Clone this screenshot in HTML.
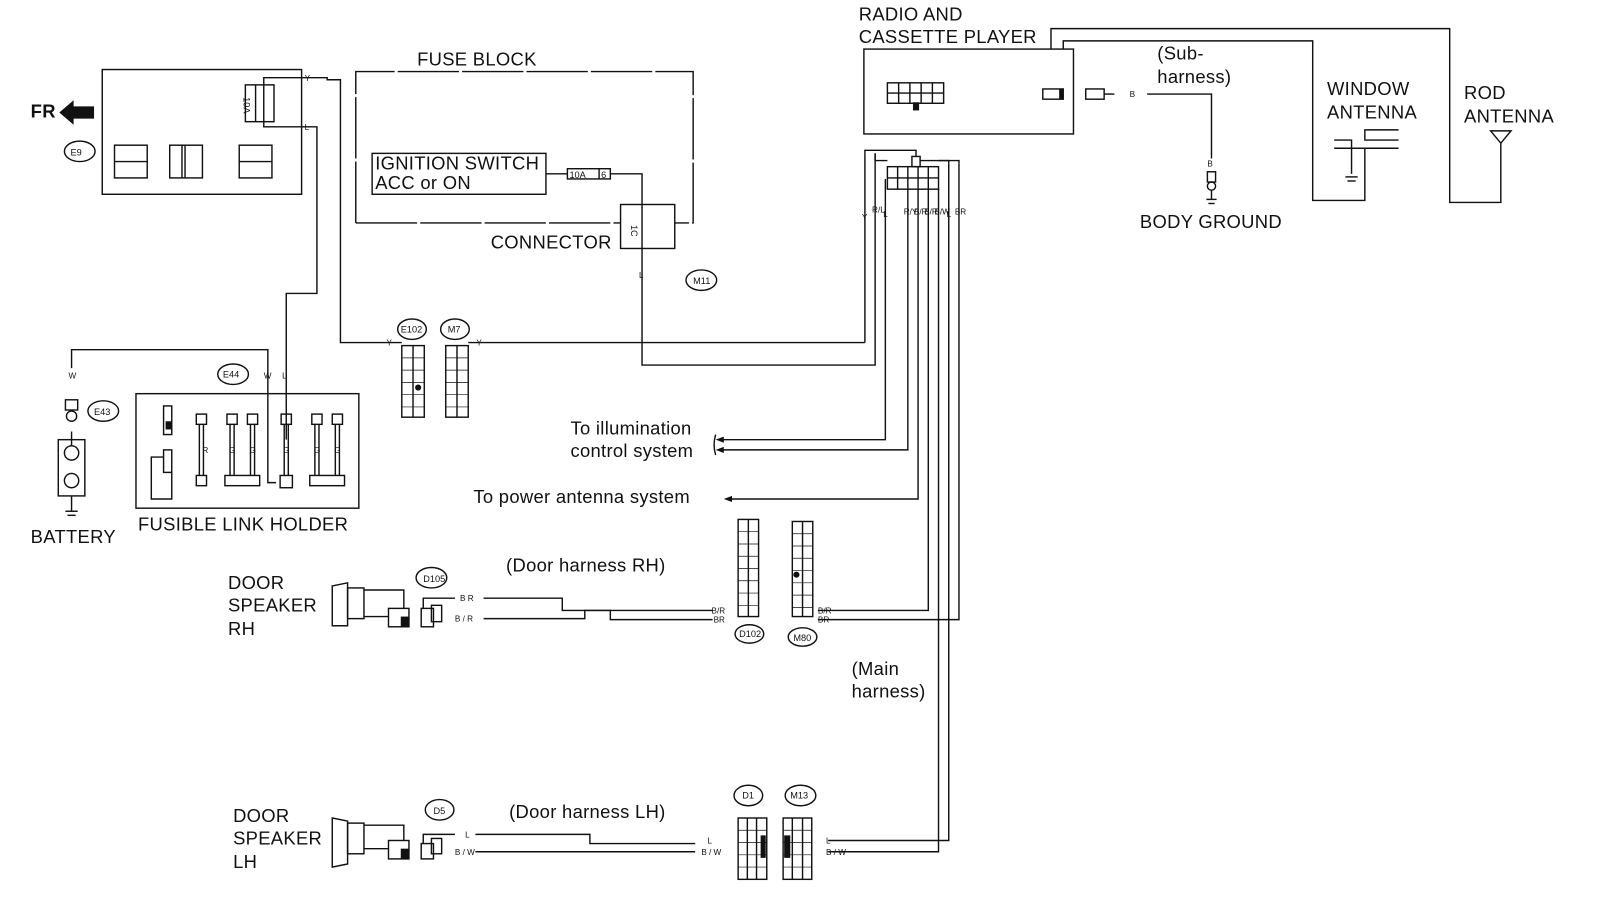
<!DOCTYPE html>
<html><head><meta charset="utf-8"><style>
html,body{margin:0;padding:0;background:#fff;}
svg{display:block;}
text{font-family:"Liberation Sans",sans-serif;fill:#111;}
.t{font-size:18px;letter-spacing:0.3px;}
.s{font-size:8px;}
.c{font-size:9px;}
</style></head><body>
<svg width="1601" height="909" viewBox="0 0 1566 889" preserveAspectRatio="none" xmlns="http://www.w3.org/2000/svg">
<g fill="none" stroke="#111" stroke-width="1.4">
<rect x="100" y="68" width="195" height="122"/>
<rect x="240" y="83" width="28" height="36"/><line x1="250" y1="83" x2="250" y2="119"/><line x1="258" y1="83" x2="258" y2="119"/>
<rect x="112" y="142" width="32" height="32"/><line x1="112" y1="158" x2="144" y2="158"/>
<rect x="166" y="142" width="32" height="32"/><line x1="178" y1="142" x2="178" y2="174"/><line x1="181" y1="142" x2="181" y2="174"/>
<rect x="234" y="142" width="32" height="32"/><line x1="234" y1="158" x2="266" y2="158"/>
<ellipse cx="78" cy="148" rx="15" ry="10"/>
<polyline points="258,83 258,76 320,76 320,78 333,78 333,335 393,335"/>
<polyline points="258,119 258,124 310,124 310,287 280,287 280,430"/>
<polyline points="348,218 348,70 678,70 678,218 660,218" stroke-dasharray="60 3"/>
<line x1="348" y1="218" x2="607" y2="218" stroke-dasharray="60 3"/>
<rect x="364" y="150" width="170" height="40"/>
<rect x="555" y="165" width="42" height="10"/><line x1="586" y1="165" x2="586" y2="175"/>
<polyline points="534,170 555,170"/><polyline points="597,170 628,170 628,357 856,357 856,150"/>
<rect x="607" y="200" width="53" height="43"/>
<ellipse cx="686" cy="274" rx="15" ry="10"/>
<ellipse cx="403" cy="322" rx="14" ry="10"/><ellipse cx="445" cy="322" rx="14" ry="10"/>
<rect x="393" y="338" width="22" height="70"/><line x1="404" y1="338" x2="404" y2="408"/>
<rect x="436" y="338" width="22" height="70"/><line x1="447" y1="338" x2="447" y2="408"/>
<line x1="458" y1="335" x2="846" y2="335"/><line x1="846" y1="335" x2="846" y2="150"/>
<polyline points="70,360 70,342 262,342 262,472 270,472"/>
<rect x="64" y="391" width="12" height="10"/><circle cx="70" cy="407" r="5"/>
<ellipse cx="101" cy="402" rx="15" ry="10"/>
<rect x="57" y="430" width="26" height="55"/><circle cx="70" cy="443" r="7"/><circle cx="70" cy="470" r="7"/>
<line x1="70" y1="422" x2="70" y2="436"/><line x1="70" y1="485" x2="70" y2="500"/>
<line x1="64" y1="500" x2="76" y2="500"/><line x1="66" y1="504" x2="74" y2="504"/>
<rect x="133" y="385" width="218" height="112"/>
<ellipse cx="228" cy="366" rx="15" ry="10"/>
<rect x="160" y="397" width="8" height="28"/>
<rect x="160" y="440" width="8" height="22"/><polyline points="160,447 148,447 148,488 168,488 168,462"/>
<rect x="192" y="405" width="10" height="10"/><rect x="192" y="465" width="10" height="10"/><line x1="195" y1="415" x2="195" y2="465"/><line x1="199" y1="415" x2="199" y2="465"/>
<rect x="222" y="405" width="10" height="10"/><rect x="242" y="405" width="10" height="10"/><rect x="220" y="465" width="34" height="10"/>
<line x1="225" y1="415" x2="225" y2="465"/><line x1="229" y1="415" x2="229" y2="465"/><line x1="245" y1="415" x2="245" y2="465"/><line x1="249" y1="415" x2="249" y2="465"/>
<rect x="275" y="405" width="10" height="10"/><rect x="274" y="465" width="12" height="12"/><line x1="278" y1="415" x2="278" y2="465"/><line x1="282" y1="415" x2="282" y2="465"/>
<rect x="305" y="405" width="10" height="10"/><rect x="325" y="405" width="10" height="10"/><rect x="303" y="465" width="34" height="10"/>
<line x1="308" y1="415" x2="308" y2="465"/><line x1="312" y1="415" x2="312" y2="465"/><line x1="328" y1="415" x2="328" y2="465"/><line x1="332" y1="415" x2="332" y2="465"/>
<rect x="845" y="48" width="205" height="83"/>
<rect x="868" y="81" width="55" height="20"/><line x1="868" y1="91" x2="923" y2="91"/>
<line x1="879" y1="81" x2="879" y2="101"/><line x1="890" y1="81" x2="890" y2="101"/><line x1="901" y1="81" x2="901" y2="101"/><line x1="912" y1="81" x2="912" y2="101"/>
<rect x="1020" y="87" width="20" height="10"/><rect x="1062" y="87" width="18" height="10"/><line x1="1080" y1="92" x2="1090" y2="92"/>
<polyline points="1122,92 1185,92 1185,155"/>
<rect x="1181" y="168" width="8" height="10"/><circle cx="1185" cy="182" r="4"/><line x1="1185" y1="186" x2="1185" y2="195"/><line x1="1180" y1="195" x2="1190" y2="195"/><line x1="1182" y1="199" x2="1188" y2="199"/>
<polyline points="1028,48 1028,28 1418,28 1418,198 1468,198 1468,140"/>
<polyline points="1040,48 1040,40 1284,40 1284,196 1335,196 1335,145"/>
<polyline points="1305,137 1322,137 1322,170"/><polyline points="1368,127 1335,127 1335,137 1368,137"/><line x1="1305" y1="145" x2="1368" y2="145"/>
<line x1="1316" y1="173" x2="1328" y2="173"/><line x1="1318" y1="177" x2="1326" y2="177"/>
<polygon points="1458,128 1478,128 1468,140"/>
<rect x="868" y="163" width="50" height="22"/><line x1="868" y1="174" x2="918" y2="174"/>
<line x1="878" y1="163" x2="878" y2="185"/><line x1="888" y1="163" x2="888" y2="185"/><line x1="898" y1="163" x2="898" y2="185"/><line x1="908" y1="163" x2="908" y2="185"/>
<rect x="892" y="153" width="8" height="10"/>
<polyline points="846,150 846,147 896,147 896,153"/><polyline points="856,150 856,157 868,157"/><polyline points="918,157 928,157 928,160"/><polyline points="900,157 938,157 938,160"/>
<line x1="866" y1="175" x2="866" y2="200"/>
<polyline points="866,200 866,430 705,430"/>
<polyline points="888,185 888,440 705,440"/>
<polyline points="898,185 898,488 712,488"/>
<polyline points="908,185 908,597 800,597"/>
<polyline points="918,185 918,833 810,833"/>
<polyline points="928,160 928,822 810,822"/>
<polyline points="938,160 938,606 800,606"/>
<path d="M700,425 Q697,435 700,445"/>
<rect x="722" y="508" width="20" height="95"/><line x1="732" y1="508" x2="732" y2="603"/>
<rect x="775" y="510" width="20" height="93"/><line x1="785" y1="510" x2="785" y2="603"/>
<ellipse cx="733" cy="620" rx="14" ry="9"/><ellipse cx="785" cy="623" rx="14" ry="9"/>
<polygon points="325,573 340,570 340,612 325,612"/><rect x="340" y="575" width="16" height="30"/>
<polyline points="356,577 395,577 395,595"/><polyline points="356,603 380,603"/>
<rect x="380" y="595" width="20" height="18"/>
<rect x="412" y="595" width="12" height="18"/><rect x="422" y="592" width="10" height="16"/>
<polyline points="414,595 414,585 445,585"/>
<ellipse cx="422" cy="565" rx="15" ry="10"/>
<polyline points="473,585 550,585 550,597 597,597 597,606 697,606"/>
<polyline points="473,605 572,605 572,597 697,597"/>
<polygon points="325,800 340,803 340,845 325,848"/><rect x="340" y="805" width="16" height="30"/>
<polyline points="356,807 395,807 395,822"/><polyline points="356,830 380,830"/>
<rect x="380" y="822" width="20" height="18"/>
<rect x="412" y="825" width="12" height="15"/><rect x="422" y="820" width="10" height="15"/>
<polyline points="414,825 414,816 445,816"/>
<ellipse cx="430" cy="792" rx="14" ry="10"/>
<polyline points="465,816 577,816 577,825 680,825"/>
<line x1="465" y1="833" x2="680" y2="833"/>
<rect x="722" y="800" width="28" height="60"/><line x1="731" y1="800" x2="731" y2="860"/><line x1="740" y1="800" x2="740" y2="860"/>
<rect x="766" y="800" width="28" height="60"/><line x1="775" y1="800" x2="775" y2="860"/><line x1="785" y1="800" x2="785" y2="860"/>
<ellipse cx="732" cy="778" rx="14" ry="10"/><ellipse cx="783" cy="778" rx="15" ry="10"/>
</g>
<g stroke="#111" stroke-width="0.7">
<line x1="393" y1="350" x2="415" y2="350"/><line x1="393" y1="362" x2="415" y2="362"/><line x1="393" y1="374" x2="415" y2="374"/><line x1="393" y1="386" x2="415" y2="386"/><line x1="393" y1="398" x2="415" y2="398"/>
<line x1="436" y1="350" x2="458" y2="350"/><line x1="436" y1="362" x2="458" y2="362"/><line x1="436" y1="374" x2="458" y2="374"/><line x1="436" y1="386" x2="458" y2="386"/><line x1="436" y1="398" x2="458" y2="398"/>
<line x1="722" y1="520" x2="742" y2="520"/><line x1="722" y1="532" x2="742" y2="532"/><line x1="722" y1="544" x2="742" y2="544"/><line x1="722" y1="556" x2="742" y2="556"/><line x1="722" y1="568" x2="742" y2="568"/><line x1="722" y1="580" x2="742" y2="580"/><line x1="722" y1="592" x2="742" y2="592"/>
<line x1="775" y1="522" x2="795" y2="522"/><line x1="775" y1="534" x2="795" y2="534"/><line x1="775" y1="546" x2="795" y2="546"/><line x1="775" y1="558" x2="795" y2="558"/><line x1="775" y1="570" x2="795" y2="570"/><line x1="775" y1="582" x2="795" y2="582"/><line x1="775" y1="594" x2="795" y2="594"/>
<line x1="722" y1="812" x2="750" y2="812"/><line x1="722" y1="824" x2="750" y2="824"/><line x1="722" y1="836" x2="750" y2="836"/><line x1="722" y1="848" x2="750" y2="848"/>
<line x1="766" y1="812" x2="794" y2="812"/><line x1="766" y1="824" x2="794" y2="824"/><line x1="766" y1="836" x2="794" y2="836"/><line x1="766" y1="848" x2="794" y2="848"/>
</g>
<g fill="#111">
<circle cx="409" cy="379" r="3"/><circle cx="779" cy="562" r="3"/>
<rect x="744" y="817" width="5" height="22"/><rect x="767" y="817" width="6" height="22"/>
<rect x="162" y="412" width="6" height="8"/><rect x="1036" y="87" width="4" height="10"/><rect x="893" y="100" width="6" height="8"/>
<rect x="392" y="603" width="8" height="10"/><rect x="392" y="830" width="8" height="10"/>
<polygon points="58,110 72,98 72,104 92,104 92,116 72,116 72,122"/>
<polygon points="700,430 708,427 708,433"/><polygon points="700,440 708,437 708,443"/><polygon points="708,488 716,485 716,491"/>
</g>
<text class="t" x="408" y="64">FUSE BLOCK</text>
<text class="t" x="367" y="166">IGNITION SWITCH</text>
<text class="t" x="367" y="185">ACC or ON</text>
<text class="c" x="557" y="174">10A</text><text class="c" x="588" y="174">6</text>
<text class="t" x="480" y="243">CONNECTOR</text>
<text class="c" x="619" y="226" transform="rotate(90 621 222)">1C</text>
<text class="t" x="30" y="115" font-weight="bold">FR</text>
<text class="c" x="242" y="111" transform="rotate(90 248 101)">10A</text>
<text class="c" x="69" y="152">E9</text>
<text class="c" x="678" y="278">M11</text>
<text class="c" x="392" y="325">E102</text><text class="c" x="438" y="325">M7</text>
<text class="c" x="218" y="369">E44</text><text class="c" x="92" y="406">E43</text>
<text class="c" x="414" y="569">D105</text><text class="c" x="723" y="623">D102</text><text class="c" x="776" y="627">M80</text>
<text class="c" x="424" y="796">D5</text><text class="c" x="726" y="781">D1</text><text class="c" x="773" y="781">M13</text>
<text class="s" x="298" y="79">Y</text><text class="s" x="298" y="127">L</text><text class="s" x="378" y="338">Y</text><text class="s" x="466" y="338">Y</text>
<text class="s" x="67" y="370">W</text><text class="s" x="258" y="370">W</text><text class="s" x="276" y="370">L</text><text class="s" x="625" y="272">L</text>
<text class="s" x="1105" y="95">B</text><text class="s" x="1181" y="163">B</text>
<text class="s" x="198" y="443">R</text><text class="s" x="224" y="443">G</text><text class="s" x="244" y="443">G</text><text class="s" x="277" y="443">G</text><text class="s" x="307" y="443">G</text><text class="s" x="327" y="443">G</text>
<text class="s" x="843" y="215">Y</text><text class="s" x="853" y="208">R/L</text><text class="s" x="864" y="212">L</text><text class="s" x="884" y="210">R/Y</text><text class="s" x="894" y="210">B/R</text><text class="s" x="904" y="210">B/R</text><text class="s" x="914" y="210">B/W</text><text class="s" x="926" y="212">L</text><text class="s" x="934" y="210">BR</text>
<text class="s" x="450" y="588">B R</text><text class="s" x="445" y="608">B / R</text>
<text class="s" x="696" y="600">B/R</text><text class="s" x="698" y="609">BR</text><text class="s" x="800" y="600">B/R</text><text class="s" x="800" y="609">BR</text>
<text class="s" x="455" y="819">L</text><text class="s" x="445" y="836">B / W</text>
<text class="s" x="692" y="825">L</text><text class="s" x="686" y="836">B / W</text><text class="s" x="808" y="825">L</text><text class="s" x="808" y="836">B / W</text>
<text class="t" x="30" y="531">BATTERY</text>
<text class="t" x="135" y="519">FUSIBLE LINK HOLDER</text>
<text class="t" x="558" y="425">To illumination</text>
<text class="t" x="558" y="447">control system</text>
<text class="t" x="463" y="492">To power antenna system</text>
<text class="t" x="840" y="20">RADIO AND</text>
<text class="t" x="840" y="42">CASSETTE PLAYER</text>
<text class="t" x="1132" y="58">(Sub-</text><text class="t" x="1132" y="81">harness)</text>
<text class="t" x="1298" y="93">WINDOW</text><text class="t" x="1298" y="116">ANTENNA</text>
<text class="t" x="1432" y="97">ROD</text><text class="t" x="1432" y="120">ANTENNA</text>
<text class="t" x="1115" y="223">BODY GROUND</text>
<text class="t" x="223" y="576">DOOR</text><text class="t" x="223" y="598">SPEAKER</text><text class="t" x="223" y="621">RH</text>
<text class="t" x="228" y="804">DOOR</text><text class="t" x="228" y="826">SPEAKER</text><text class="t" x="228" y="849">LH</text>
<text class="t" x="495" y="559">(Door harness RH)</text>
<text class="t" x="498" y="800">(Door harness LH)</text>
<text class="t" x="833" y="660">(Main</text><text class="t" x="833" y="682">harness)</text>
</svg>
</body></html>
